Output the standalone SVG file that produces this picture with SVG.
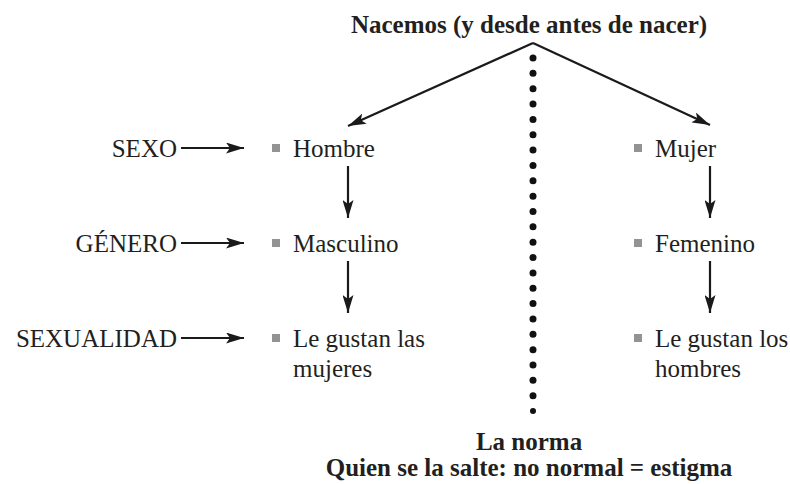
<svg xmlns="http://www.w3.org/2000/svg" width="790" height="484" viewBox="0 0 790 484">
<defs>
<style>
.t{font-family:"Liberation Serif","Times New Roman",serif;font-size:25px;fill:#231f20}
.b{font-weight:bold}
.m{text-anchor:middle}
.e{text-anchor:end}
.ln{stroke:#1a1a1a;stroke-width:2.2;fill:none}
.bul{fill:#939393}
.dot{fill:#111}
</style>
<marker id="ah" viewBox="0 0 18 11" refX="18" refY="5.5" markerWidth="18" markerHeight="11" markerUnits="userSpaceOnUse" orient="auto">
<path d="M0,0 L18,5.5 L0,11 L4,5.5 Z" fill="#1a1a1a"/>
</marker>
</defs>
<rect width="790" height="484" fill="#fff"/>

<g id="divider">
<circle class="dot" cx="533" cy="58" r="3.5"/><circle class="dot" cx="533" cy="73.35" r="3.5"/><circle class="dot" cx="533" cy="88.7" r="3.5"/><circle class="dot" cx="533" cy="104.05" r="3.5"/><circle class="dot" cx="533" cy="119.4" r="3.5"/><circle class="dot" cx="533" cy="134.75" r="3.5"/><circle class="dot" cx="533" cy="150.1" r="3.5"/><circle class="dot" cx="533" cy="165.45" r="3.5"/><circle class="dot" cx="533" cy="180.8" r="3.5"/><circle class="dot" cx="533" cy="196.15" r="3.5"/><circle class="dot" cx="533" cy="211.5" r="3.5"/><circle class="dot" cx="533" cy="226.85" r="3.5"/><circle class="dot" cx="533" cy="242.2" r="3.5"/><circle class="dot" cx="533" cy="257.55" r="3.5"/><circle class="dot" cx="533" cy="272.9" r="3.5"/><circle class="dot" cx="533" cy="288.25" r="3.5"/><circle class="dot" cx="533" cy="303.6" r="3.5"/><circle class="dot" cx="533" cy="318.95" r="3.5"/><circle class="dot" cx="533" cy="334.3" r="3.5"/><circle class="dot" cx="533" cy="349.65" r="3.5"/><circle class="dot" cx="533" cy="365" r="3.5"/><circle class="dot" cx="533" cy="380.35" r="3.5"/><circle class="dot" cx="533" cy="395.7" r="3.5"/><circle class="dot" cx="533" cy="411" r="3"/>
</g>

<g id="connectors">
<path class="ln" d="M533,43 L348,126" marker-end="url(#ah)"/>
<path class="ln" d="M533,43 L710,125" marker-end="url(#ah)"/>
<path class="ln" d="M181,148 L244,148" marker-end="url(#ah)"/>
<path class="ln" d="M181,243 L244,243" marker-end="url(#ah)"/>
<path class="ln" d="M181,338 L244,338" marker-end="url(#ah)"/>
<path class="ln" d="M348,166 L348,218" marker-end="url(#ah)"/>
<path class="ln" d="M348,261 L348,313" marker-end="url(#ah)"/>
<path class="ln" d="M710,166 L710,218" marker-end="url(#ah)"/>
<path class="ln" d="M710,261 L710,313" marker-end="url(#ah)"/>
</g>

<g id="title"><text class="t b m" x="529" y="33">Nacemos (y desde antes de nacer)</text></g>

<g id="label-sexo"><text class="t e" x="177" y="157">SEXO</text></g>
<g id="label-genero"><text class="t e" x="177" y="252">GÉNERO</text></g>
<g id="label-sexualidad"><text class="t e" x="177" y="347">SEXUALIDAD</text></g>

<g id="hombre"><rect class="bul" x="272" y="144" width="8" height="8"/><text class="t" x="293" y="157">Hombre</text></g>
<g id="masculino"><rect class="bul" x="272" y="239" width="8" height="8"/><text class="t" x="293" y="252">Masculino</text></g>
<g id="gustan-mujeres"><rect class="bul" x="272" y="334" width="8" height="8"/><text class="t" x="293" y="347">Le gustan las</text><text class="t" x="293" y="377">mujeres</text></g>

<g id="mujer"><rect class="bul" x="634" y="144" width="8" height="8"/><text class="t" x="655" y="157">Mujer</text></g>
<g id="femenino"><rect class="bul" x="634" y="239" width="8" height="8"/><text class="t" x="655" y="252">Femenino</text></g>
<g id="gustan-hombres"><rect class="bul" x="634" y="334" width="8" height="8"/><text class="t" x="655" y="347">Le gustan los</text><text class="t" x="655" y="377">hombres</text></g>

<g id="norma"><text class="t b m" x="529" y="450">La norma</text><text class="t b m" x="529" y="476">Quien se la salte: no normal = estigma</text></g>
</svg>
